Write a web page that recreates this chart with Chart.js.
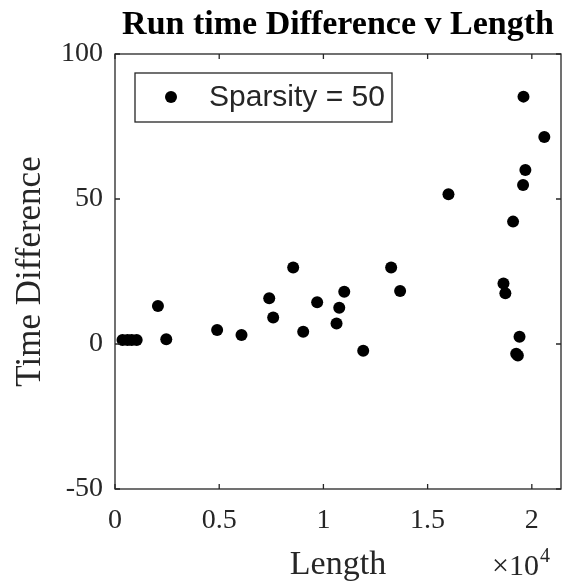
<!DOCTYPE html>
<html>
<head>
<meta charset="utf-8">
<script src="https://cdn.jsdelivr.net/npm/chart.js@4"></script>
<style>
  html, body { margin: 0; padding: 0; background: #fff; }
</style>
</head>
<body>
<canvas id="scatterChart" width="570" height="586"></canvas>
<script>
const lengths = [
  360, 600, 800, 1040, 2060, 2460, 4900, 6070, 7400, 7590, 8550, 9030, 9700,
  10630, 10760, 11000, 11910, 13250, 13680, 16000, 18640, 18730, 19100, 19250,
  19330, 19410, 19580, 19600, 19690, 20600,
];
const timeDiffs = [
  1.4, 1.4, 1.4, 1.4, 13.1, 1.6, 4.8, 3.1, 15.8, 9.1, 26.4, 4.2, 14.4, 7.1,
  12.5, 18.0, -2.3, 26.4, 18.3, 51.6, 20.9, 17.5, 42.2, -3.4, -4.0, 2.5, 54.8,
  85.3, 60.0, 71.4,
];
const xTicks = [0, 5000, 10000, 15000, 20000];
const yTicks = [-50, 0, 50, 100];
const seriesLabel = "Sparsity = 50";
const chartTitle = "Run time Difference v Length";
const xTitle = "Length";
const yTitle = "Time Difference";

const axisColor = "#262626";
const serif = "'Liberation Serif', 'Times New Roman', serif";

// box, inward ticks, titles and legend drawn MATLAB style
const matlabAxes = {
  id: "matlabAxes",
  afterDraw(chart) {
    const { ctx, chartArea: a, scales } = chart;
    ctx.save();
    ctx.strokeStyle = axisColor;
    ctx.lineWidth = 1.3;
    ctx.strokeRect(a.left, a.top, a.right - a.left, a.bottom - a.top);

    const tl = 5;
    ctx.beginPath();
    xTicks.forEach((v) => {
      const x = scales.x.getPixelForValue(v);
      ctx.moveTo(x, a.bottom);
      ctx.lineTo(x, a.bottom - tl);
      ctx.moveTo(x, a.top);
      ctx.lineTo(x, a.top + tl);
    });
    yTicks.forEach((v) => {
      const y = scales.y.getPixelForValue(v);
      ctx.moveTo(a.left, y);
      ctx.lineTo(a.left + tl, y);
      ctx.moveTo(a.right, y);
      ctx.lineTo(a.right - tl, y);
    });
    ctx.stroke();

    const cx = (a.left + a.right) / 2;

    // title
    ctx.fillStyle = "#000";
    ctx.font = "bold 34px " + serif;
    ctx.textAlign = "center";
    ctx.textBaseline = "alphabetic";
    ctx.fillText(chartTitle, cx, 34);

    // x label and exponent
    ctx.fillStyle = axisColor;
    ctx.font = "34px " + serif;
    ctx.fillText(xTitle, cx, 574);
    ctx.textAlign = "left";
    ctx.font = "30px " + serif;
    ctx.fillText("\u00d710", 492, 575);
    ctx.font = "20px " + serif;
    ctx.fillText("4", 540, 562);

    // y label
    ctx.save();
    ctx.translate(40, (a.top + a.bottom) / 2);
    ctx.rotate(-Math.PI / 2);
    ctx.textAlign = "center";
    ctx.font = "35px " + serif;
    ctx.fillText(yTitle, 0, 0);
    ctx.restore();

    // legend
    ctx.fillStyle = "#fff";
    ctx.fillRect(135, 73, 257, 49);
    ctx.strokeStyle = axisColor;
    ctx.lineWidth = 1.3;
    ctx.strokeRect(135, 73, 257, 49);
    ctx.fillStyle = "#000";
    ctx.beginPath();
    ctx.arc(171, 97, 6, 0, Math.PI * 2);
    ctx.fill();
    ctx.fillStyle = axisColor;
    ctx.font = "30px 'Liberation Sans', Arial, sans-serif";
    ctx.textAlign = "left";
    ctx.textBaseline = "middle";
    ctx.fillText(seriesLabel, 209, 98);
    ctx.restore();
  },
};

document.addEventListener("DOMContentLoaded", () => {
  const scatterChart = document.querySelector("#scatterChart");

  new Chart(scatterChart, {
    type: "scatter",
    data: {
      datasets: [
        {
          label: seriesLabel,
          data: lengths.map((x, i) => ({ x: x, y: timeDiffs[i] })),
          backgroundColor: "#000",
          borderWidth: 0,
          pointRadius: 6,
          pointHoverRadius: 6,
        },
      ],
    },
    options: {
      responsive: false,
      animation: false,
      layout: { padding: { top: 54, right: 9, left: 0, bottom: 0 } },
      plugins: {
        legend: { display: false },
        tooltip: { enabled: false },
      },
      scales: {
        x: {
          type: "linear",
          min: 0,
          max: 21400,
          afterFit: (scale) => { scale.height = 97; },
          afterBuildTicks: (scale) => {
            scale.ticks = xTicks.map((v) => ({ value: v }));
          },
          grid: { display: false, drawTicks: false },
          border: { display: false },
          ticks: {
            padding: 15,
            color: axisColor,
            font: { family: serif, size: 28 },
            callback: (v) => String(v / 10000),
          },
        },
        y: {
          min: -50,
          max: 100,
          afterFit: (scale) => { scale.width = 115; },
          afterBuildTicks: (scale) => {
            scale.ticks = yTicks.map((v) => ({ value: v }));
          },
          grid: { display: false, drawTicks: false },
          border: { display: false },
          ticks: {
            padding: 12,
            color: axisColor,
            font: { family: serif, size: 28 },
          },
        },
      },
    },
    plugins: [matlabAxes],
  });
});
</script>
</body>
</html>
